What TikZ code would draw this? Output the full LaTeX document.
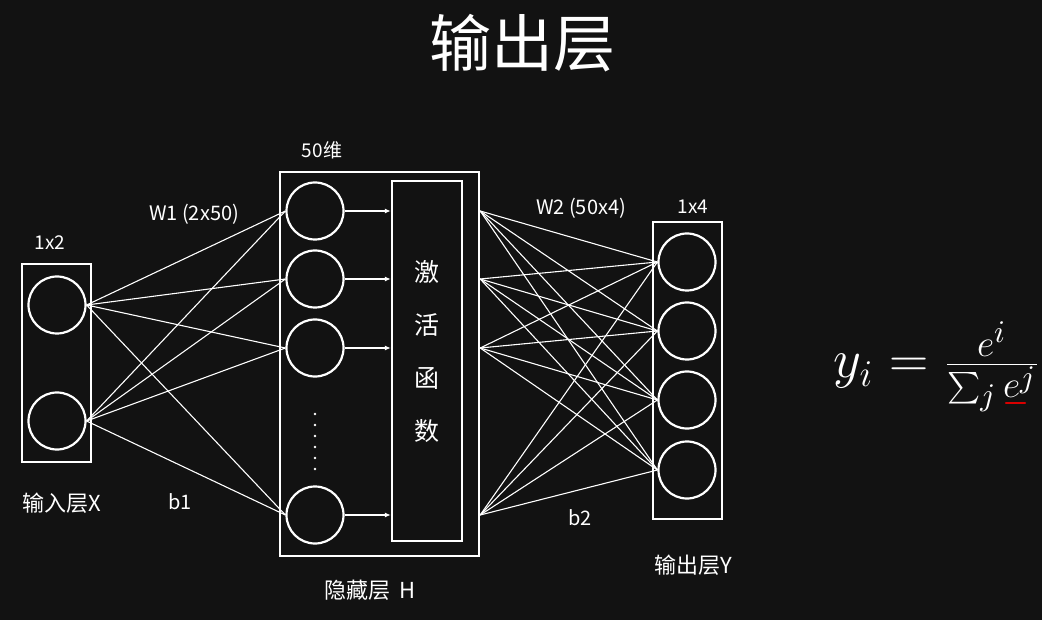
\documentclass[tikz,border=0pt]{standalone}
\usepackage{fontspec}
\newfontfamily\cjk{Noto Sans CJK SC}
\usetikzlibrary{arrows.meta}
\definecolor{bg}{HTML}{121212}
\begin{document}
\begin{tikzpicture}[x=1pt,y=-1pt,
  neuron/.style={circle,draw=white,line width=2.2pt,minimum size=57pt,inner sep=0pt},
  layerbox/.style={rectangle,draw=white,line width=2.4pt,inner sep=0pt},
  wire/.style={draw=white,line width=1.1pt},
  flow/.style={wire,-{Latex[length=6pt,width=5pt]}},
  lbl/.style={text=white,inner sep=0pt,font=\cjk\fontsize{20}{22}\selectfont},
  ]
\fill[bg] (0,0) rectangle (1042,620);
\useasboundingbox (0,0) rectangle (1042,620);

% title
\node[lbl,font=\cjk\fontsize{62}{62}\selectfont] (title) at (522,43) {输出层};

% boxes
\node[layerbox,minimum width=69pt,minimum height=198pt] (inbox) at (56.5,363) {};
\node[layerbox,minimum width=199pt,minimum height=384pt] (hbox) at (379.5,364) {};
\node[layerbox,minimum width=70pt,minimum height=360pt] (act) at (427,361) {};
\node[layerbox,minimum width=69pt,minimum height=297pt] (outbox) at (687.5,370.5) {};

% neurons
\node[neuron] (x1) at (57,305) {};
\node[neuron] (x2) at (57,421) {};
\node[neuron] (h1) at (315,211) {};
\node[neuron] (h2) at (315,279) {};
\node[neuron] (h3) at (315,348) {};
\node[neuron] (h4) at (315,515) {};
\node[neuron] (o1) at (687,262) {};
\node[neuron] (o2) at (687,331) {};
\node[neuron] (o3) at (687,400) {};
\node[neuron] (o4) at (687,470) {};

% dots
\foreach \yy in {414,425,436,447,458,469} \fill[white] (315,\yy) circle (1.3pt);

% input -> hidden
\foreach \a in {x1,x2} \foreach \b in {h1,h2,h3,h4} \draw[wire] (\a.east) -- (\b.west);

% hidden -> activation
\foreach \b in {h1,h2,h3,h4} \draw[flow] (\b.east) -- (\b.east -| act.west);

% activation -> output
\foreach \b in {h1,h2,h3,h4} \foreach \o in {o1,o2,o3,o4} \draw[wire] (hbox.east |- \b) -- (\o.west);

% activation text
\node[lbl,align=center,font=\cjk\fontsize{25}{53}\selectfont] (acttxt) at (427,352) {激\\活\\函\\数};

% labels
\node[lbl,font=\cjk\fontsize{19}{20}\selectfont] (l12) at (50,243) {1x2};
\node[lbl,font=\cjk\fontsize{19}{20}\selectfont] (l50) at (322,150) {50维};
\node[lbl] (w1) at (194,214) {W1 (2x50)};
\node[lbl] (w2) at (581,208) {W2 (50x4)};
\node[lbl,font=\cjk\fontsize{19}{20}\selectfont] (l14) at (693,207) {1x4};
\node[lbl,font=\cjk\fontsize{22}{24}\selectfont] (linx) at (62,503) {输入层X};
\node[lbl] (b1) at (180,502) {b1};
\node[lbl] (b2) at (580,518) {b2};
\node[lbl,font=\cjk\fontsize{22}{24}\selectfont] (lh) at (370,590) {隐藏层\ \ H};
\node[lbl,font=\cjk\fontsize{22}{24}\selectfont] (lout) at (693,565) {输出层Y};

% formula
\node[text=white,inner sep=0pt,scale=3.15,font=\LARGE] (formula) at (937,367) {$y_i = \frac{e^i}{\sum_j e^j}$};
\draw[red!85!black,line width=2.2pt,line cap=round] (1006,403) -- (1025,403);
\end{tikzpicture}
\end{document}
